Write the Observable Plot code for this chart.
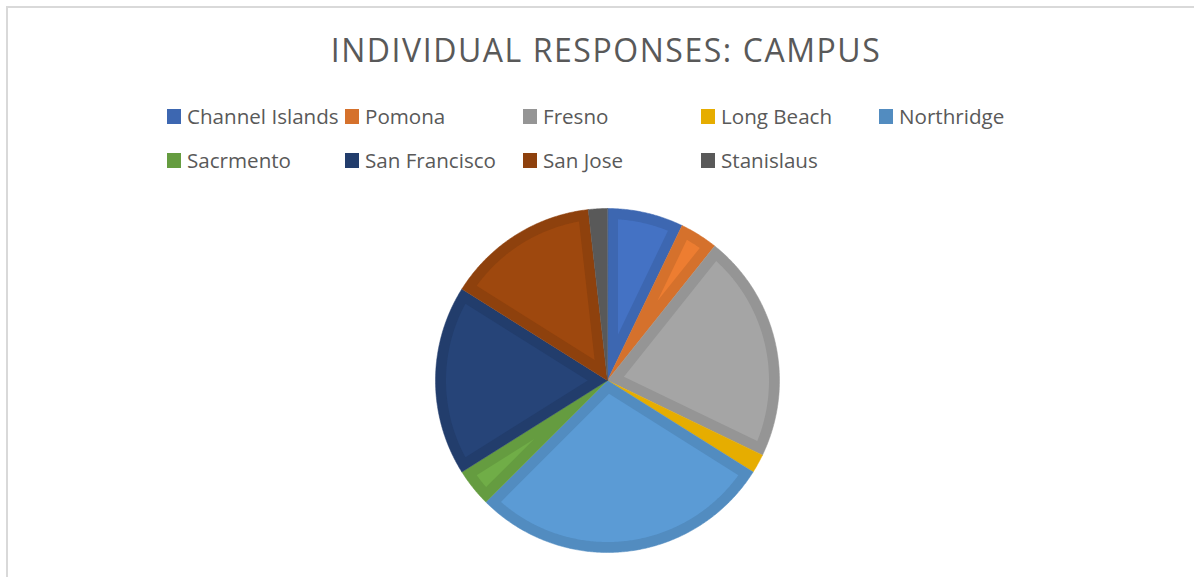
<!DOCTYPE html>
<html>
<head>
<meta charset="utf-8">
<script src="https://cdn.jsdelivr.net/npm/d3@7"></script>
<script src="https://cdn.jsdelivr.net/npm/@observablehq/plot@0.6"></script>
<style>
  html, body { margin: 0; padding: 0; background: #fff; width: 1194px; height: 577px; overflow: hidden; }
  body { position: relative; font-family: "Open Sans", sans-serif; color: #595959; }
  #frame { position: absolute; left: 6px; top: 6px; width: 1300px; height: 700px;
           border-left: 2px solid #d9d9d9; border-top: 2px solid #d9d9d9; }
  #title { position: absolute; left: 8px; width: 1196px; top: 28px; text-align: center;
           font-size: 32px; letter-spacing: 1.55px; line-height: 44px; white-space: nowrap; }
  #legend { position: absolute; left: 167px; top: 101px; width: 900px; display: grid;
            grid-template-columns: repeat(5, 178px); row-gap: 14px; }
  .item { display: flex; align-items: center; height: 30px; font-size: 20.6px; white-space: nowrap; }
  .sw { width: 14px; height: 15px; margin-right: 6px; flex: none; }
  #chart { position: absolute; left: 0; top: 190px; }
</style>
</head>
<body>
<div id="frame"></div>
<div id="title"></div>
<div id="legend"></div>
<div id="chart"></div>
<script>
const titleText = "INDIVIDUAL RESPONSES: CAMPUS";
const campuses = ["Channel Islands", "Pomona", "Fresno", "Long Beach", "Northridge",
                  "Sacrmento", "San Francisco", "San Jose", "Stanislaus"];
const responses = [4, 2, 12, 1, 16, 2, 10, 8, 1];
const fillColors = ["#4472C4", "#ED7D31", "#A5A5A5", "#FFC000", "#5B9BD5",
                    "#70AD47", "#264478", "#9E480E", "#636363"];
const edgeColors = ["#3D67B1", "#D5712C", "#959595", "#E6AD00", "#528CC0",
                    "#659C40", "#223D6C", "#8E410D", "#595959"];

document.getElementById("title").textContent = titleText;
const legend = document.getElementById("legend");
campuses.forEach((c, i) => {
  const item = document.createElement("div");
  item.className = "item";
  const sw = document.createElement("span");
  sw.className = "sw";
  sw.style.background = edgeColors[i];
  const t = document.createElement("span");
  t.textContent = c;
  item.appendChild(sw);
  item.appendChild(t);
  legend.appendChild(item);
});

const rows = campuses.map((c, i) => ({campus: c, n: responses[i], i}));
const arcs = d3.pie().sort(null).value(d => d.n)(rows);

const R = 1;
const W = 10.5 / 172; // border thickness in radius units
const step = Math.PI / 360;

const outerPts = [];
const innerPts = [];
for (const a of arcs) {
  const {startAngle: a0, endAngle: a1} = a;
  const i = a.data.i;
  const pts = [[0, 0]];
  const n = Math.max(2, Math.ceil((a1 - a0) / step));
  for (let k = 0; k <= n; ++k) {
    const t = a0 + (a1 - a0) * k / n;
    pts.push([R * Math.sin(t), R * Math.cos(t)]);
  }
  pts.forEach(([x, y], k) => outerPts.push({campus: a.data.campus, x, y, k, color: edgeColors[i]}));
  const half = (a1 - a0) / 2;
  const d = W / Math.sin(half);
  const ri = R - W;
  if (d < ri * 0.98) {
    const mid = (a0 + a1) / 2;
    const dl = Math.asin(W / ri);
    const b0 = a0 + dl, b1 = a1 - dl;
    if (b1 > b0) {
      const ip = [[d * Math.sin(mid), d * Math.cos(mid)]];
      const m = Math.max(2, Math.ceil((b1 - b0) / step));
      for (let k = 0; k <= m; ++k) {
        const t = b0 + (b1 - b0) * k / m;
        ip.push([ri * Math.sin(t), ri * Math.cos(t)]);
      }
      ip.forEach(([x, y], k) => innerPts.push({campus: a.data.campus, x, y, k, color: fillColors[i]}));
    }
  }
}

const cx = 607, cy = 190, rad = 172;
const plot = Plot.plot({
  width: 1194,
  height: 387,
  margin: 0,
  style: {background: "transparent", overflow: "visible"},
  x: {domain: [-1, 1], range: [cx - rad, cx + rad], axis: null},
  y: {domain: [-1, 1], range: [cy + rad, cy - rad], axis: null},
  color: {type: "identity"},
  marks: [
    Plot.line(outerPts, {x: "x", y: "y", z: "campus", fill: "color", stroke: "color", strokeWidth: 0.5, curve: "linear-closed"}),
    Plot.line(innerPts, {x: "x", y: "y", z: "campus", fill: "color", stroke: "none", curve: "linear-closed"})
  ]
});
document.getElementById("chart").appendChild(plot);
</script>
</body>
</html>
